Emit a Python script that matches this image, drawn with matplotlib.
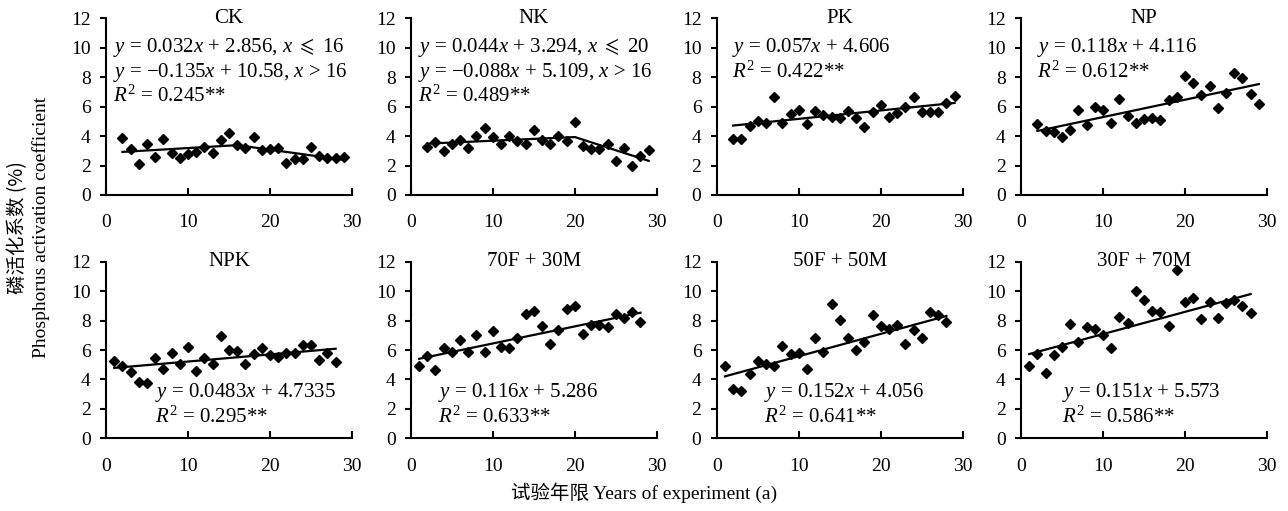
import numpy as np
import matplotlib.pyplot as plt

plt.rcParams['font.family'] = ['Liberation Serif', 'DejaVu Sans']
plt.rcParams['mathtext.fontset'] = 'custom'
plt.rcParams['mathtext.rm'] = 'Liberation Serif'
plt.rcParams['mathtext.it'] = 'Liberation Serif:italic'
plt.rcParams['mathtext.fallback'] = 'stix'

# treatments and data (years of experiment vs P activation coefficient, %)
names = ['CK', 'NK', 'PK', 'NP', 'NPK', '70F + 30M', '50F + 50M', '30F + 70M']

years_top = list(range(2, 30))
years_bot = list(range(1, 29))

ck = [3.85, 3.12, 2.08, 3.46, 2.6, 3.78, 2.85, 2.53, 2.76, 2.92, 3.24, 2.87, 3.73, 4.2,
      3.39, 3.17, 3.96, 3.08, 3.1, 3.17, 2.17, 2.44, 2.42, 3.24, 2.65, 2.53, 2.49, 2.6]
nk = [3.28, 3.62, 3.0, 3.48, 3.73, 3.19, 4.0, 4.57, 3.91, 3.5, 3.98, 3.69, 3.5, 4.41,
      3.71, 3.46, 4.03, 3.69, 4.95, 3.33, 3.14, 3.14, 3.46, 2.31, 3.17, 1.97, 2.67, 3.05]
pk = [3.8, 3.8, 4.68, 5.0, 4.86, 6.65, 4.86, 5.52, 5.79, 4.82, 5.72, 5.41, 5.32, 5.2,
      5.68, 5.23, 4.64, 5.63, 6.11, 5.32, 5.59, 5.97, 6.63, 5.65, 5.65, 5.65, 6.25, 6.7]
np_ = [4.8, 4.37, 4.28, 3.96, 4.41, 5.81, 4.77, 5.97, 5.81, 4.86, 6.54, 5.38, 4.86, 5.18,
       5.23, 5.09, 6.49, 6.65, 8.1, 7.62, 6.83, 7.4, 5.89, 6.9, 8.3, 7.92, 6.86, 6.18]
npk = [5.27, 4.89, 4.5, 3.82, 3.77, 5.43, 4.73, 5.77, 5.07, 6.18, 4.59, 5.48, 5.02, 6.95,
       6.0, 5.91, 5.07, 5.73, 6.14, 5.68, 5.5, 5.8, 5.82, 6.36, 6.36, 5.34, 5.8, 5.2]
f70m30 = [4.93, 5.57, 4.61, 6.14, 5.84, 6.7, 5.89, 7.02, 5.89, 7.32, 6.23, 6.11, 6.8, 8.45,
          8.64, 7.66, 6.43, 7.34, 8.77, 8.98, 7.07, 7.7, 7.7, 7.59, 8.48, 8.16, 8.6, 7.9]
f50m50 = [4.93, 3.36, 3.2, 4.36, 5.27, 5.02, 4.93, 6.25, 5.75, 5.8, 4.68, 6.82, 5.84, 9.16,
          8.07, 6.8, 6.0, 6.55, 8.39, 7.66, 7.41, 7.73, 6.43, 7.36, 6.84, 8.6, 8.4, 7.9]
f30m70 = [4.89, 5.75, 4.43, 5.66, 6.18, 7.75, 6.55, 7.59, 7.45, 7.02, 6.11, 8.23, 7.84, 10.0,
          9.41, 8.64, 8.59, 7.61, 11.41, 9.23, 9.55, 8.11, 9.25, 8.2, 9.2, 9.4, 9.0, 8.5]

series = [ck, nk, pk, np_, npk, f70m30, f50m50, f30m70]

# printed fits: linear panels use slope/intercept, piecewise panels use a breakpoint
slopes = [None, None, 0.057, 0.118, 0.0483, 0.116, 0.152, 0.151]
intercepts = [None, None, 4.606, 4.116, 4.7335, 5.286, 4.056, 5.573]
breaks = [16, 20, None, None, None, None, None, None]

eq_texts = [
    ['$y$ = 0.032$x$ + 2.856, $x$ $\\leqslant$ 16', '$y$ = −0.135$x$ + 10.58, $x$ > 16', '$R^2$ = 0.245**'],
    ['$y$ = 0.044$x$ + 3.294, $x$ $\\leqslant$ 20', '$y$ = −0.088$x$ + 5.109, $x$ > 16', '$R^2$ = 0.489**'],
    ['$y$ = 0.057$x$ + 4.606', '$R^2$ = 0.422**'],
    ['$y$ = 0.118$x$ + 4.116', '$R^2$ = 0.612**'],
    ['$y$ = 0.0483$x$ + 4.7335', '$R^2$ = 0.295**'],
    ['$y$ = 0.116$x$ + 5.286', '$R^2$ = 0.633**'],
    ['$y$ = 0.152$x$ + 4.056', '$R^2$ = 0.641**'],
    ['$y$ = 0.151$x$ + 5.573', '$R^2$ = 0.586**'],
]
eq_pos = [(0.9, 10.0), (0.9, 10.0), (1.9, 10.0), (1.9, 10.0),
          (6.0, 3.1), (3.3, 3.1), (5.8, 3.1), (5.0, 3.1)]

fig = plt.figure(figsize=(12.88, 5.11), dpi=100)
lefts = [0.0823, 0.319, 0.5565, 0.7927]
w = 0.191
bottoms = [0.6184, 0.1423]
h = 0.3455

for i, (name, vals) in enumerate(zip(names, series)):
    row, col = divmod(i, 4)
    ax = fig.add_axes([lefts[col], bottoms[row], w, h])
    x = np.array(years_top if row == 0 else years_bot, dtype=float)
    y = np.array(vals)
    ax.plot(x, y, 'D', color='black', ms=5.5, zorder=3)

    if breaks[i] is not None:
        b = breaks[i]
        A = np.column_stack([np.ones_like(x), x, np.clip(x - b, 0, None)])
        coef = np.linalg.lstsq(A, y, rcond=None)[0]
        xs = np.array([x[0], b, x[-1]])
        ys = coef[0] + coef[1] * xs + coef[2] * np.clip(xs - b, 0, None)
    else:
        xs = np.array([x[0], x[-1]])
        ys = slopes[i] * xs + intercepts[i]
    ax.plot(xs, ys, color='black', lw=1.6)

    ax.set_xlim(0, 30)
    ax.set_ylim(0, 12)
    ax.set_xticks([0, 10, 20, 30])
    ax.set_yticks(range(0, 13, 2))
    ax.spines['top'].set_visible(False)
    ax.spines['right'].set_visible(False)
    ax.spines['left'].set_linewidth(1.5)
    ax.spines['bottom'].set_linewidth(1.5)
    ax.tick_params(axis='y', direction='out', length=4, width=1.5, labelsize=14, pad=7)
    ax.tick_params(axis='x', direction='in', length=5, width=1.5, labelsize=14, pad=14)
    ax.patch.set_visible(False)

    ax.text(15, 12, name, ha='center', va='center', fontsize=15)
    ex, ey = eq_pos[i]
    for k, line in enumerate(eq_texts[i]):
        ax.text(ex, ey - k * 1.65, line, ha='left', va='center', fontsize=15)

fig.text(0.014, 0.555, '磷活化系数 (%)', rotation=90, ha='center', va='center',
         fontsize=14, family=['Noto Sans CJK SC', 'Liberation Serif'])
fig.text(0.032, 0.555, 'Phosphorus activation coefficient', rotation=90,
         ha='center', va='center', fontsize=14)
fig.text(0.5, 0.035, '试验年限 Years of experiment (a)', ha='center', va='center',
         fontsize=14, family=['Liberation Serif', 'Noto Sans CJK SC'])

fig.savefig('out.png', dpi=100)
